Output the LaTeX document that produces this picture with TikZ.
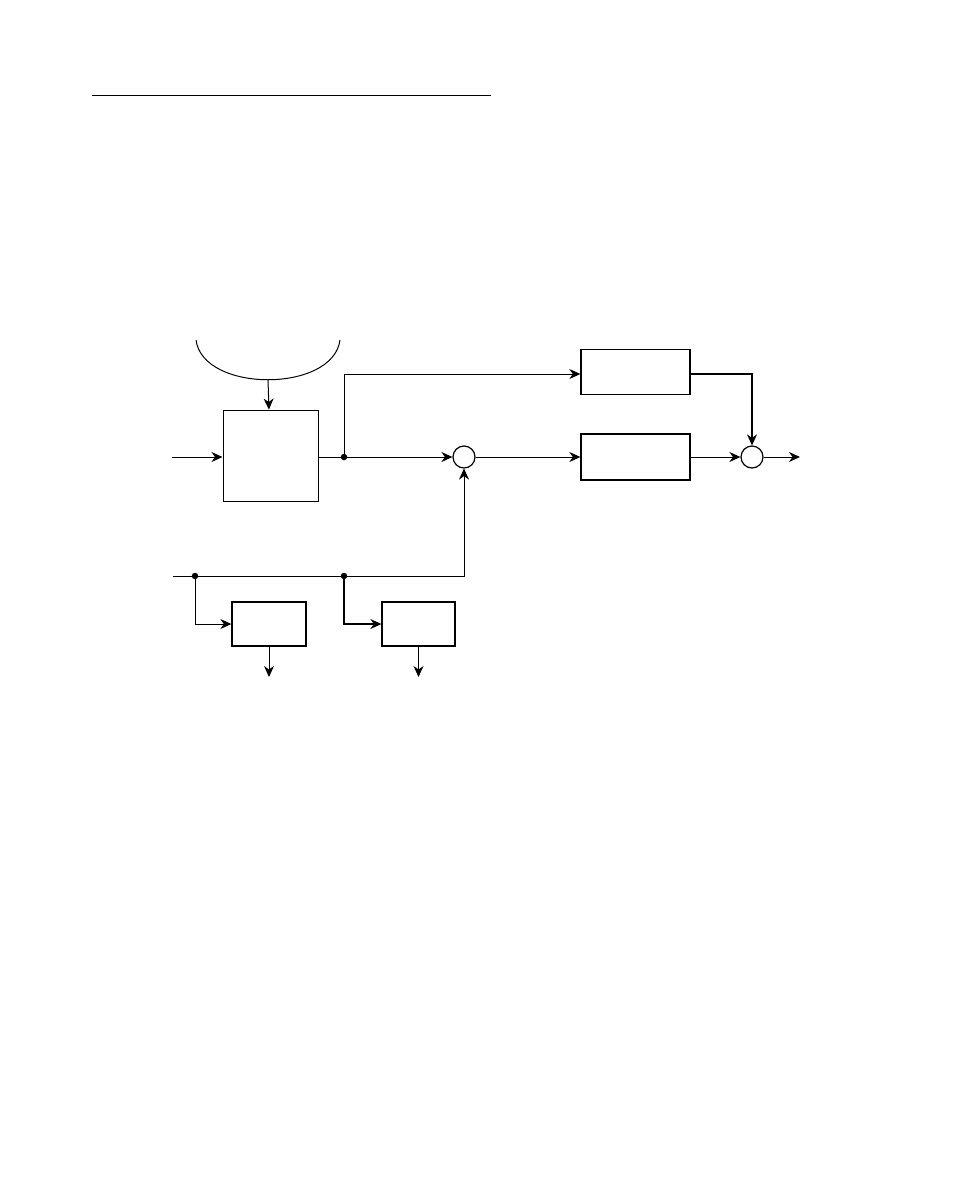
\documentclass[tikz,border=0pt]{standalone}
\usepackage{tikz}
\usetikzlibrary{arrows.meta}
\begin{document}
\begin{tikzpicture}[
			     x=1pt, y=-1pt,
			     >={Stealth[length=11pt,width=10pt,inset=3.5pt]},
			     block/.style={draw, line width=1.3pt, inner sep=0pt},
			     sum/.style={draw, circle, line width=1.2pt, minimum size=22pt, inner sep=0pt},
			     junction/.style={fill, circle, minimum size=6.5pt, inner sep=0pt},
			     normal line/.style={->, line width=1pt}
			     ]
\useasboundingbox (0,0) rectangle (954,1202);
\draw[line width=1pt] (92,95) -- (491,95);
% source and main block
\draw[line width=1pt] (196,340) .. controls (203,393) and (333,393) .. (340,340);
\coordinate (feed) at (268,380);
\node[block, line width=1pt, minimum width=95pt, minimum height=91pt] (main) at (270.5,455.5) {};
\coordinate (in) at (172,457);
\node[junction] (j1) at (344,457) {};
\node[sum] (s1) at (464,457) {};
\node[block, minimum width=109pt, minimum height=45pt] (f1) at (635.5,372) {};
\node[block, minimum width=109pt, minimum height=46pt] (f2) at (635.5,457) {};
\node[sum] (s2) at (752,457) {};
\coordinate (out) at (800,457);
% lower branch
\coordinate (in2) at (173,576);
\node[junction] (j2) at (195,576) {};
\node[junction] (j3) at (344,576) {};
\node[block, minimum width=74pt, minimum height=44pt] (g1) at (269,624) {};
\node[block, minimum width=73pt, minimum height=44pt] (g2) at (418.5,624) {};
\coordinate (o1) at (269,677);
\coordinate (o2) at (418.5,677);

\path (feed) edge[normal line] (main);
\path (in) edge[normal line] (in -| main.west);
\path (j1 -| main.east) edge[line width=1pt] (j1);
\path (j1) edge[normal line] (s1);
\draw[normal line] (j1) |- ([yshift=-2pt]f1.west);
\path (s1) edge[normal line] (f2);
\path (f2) edge[normal line] (s2);
\draw[normal line, line width=1.3pt] ([yshift=-2pt]f1.east) -| (s2.north);
\path (s2) edge[normal line] (out);
\draw[normal line] (in2) -- (j3) -| (s1.south);
\draw[normal line] (j2) |- (g1.west);
\draw[normal line, line width=1.3pt] (j3) |- (g2.west);
\path (g1) edge[normal line] (o1);
\path (g2) edge[normal line] (o2);
\end{tikzpicture}
\end{document}
